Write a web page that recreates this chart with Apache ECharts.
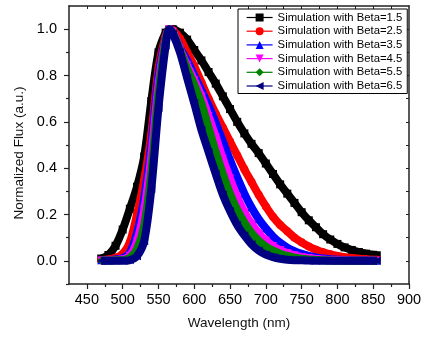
<!DOCTYPE html>
<html>
<head>
<meta charset="utf-8">
<script src="https://cdn.jsdelivr.net/npm/echarts@6/dist/echarts.min.js"></script>
<style>html,body{margin:0;padding:0;background:#fff}#c{width:425px;height:338px}</style>
</head>
<body>
<div id="c"></div>
<script>
// ---- data ----
const wavelength = [470,480,490,500,510,520,530,540,550,560,565,570,580,590,600,610,620,630,640,650,660,670,680,690,700,710,720,730,740,750,760,770,780,790,800,810,820,830,840,850,855];
const beta15 = [0.010,0.025,0.065,0.135,0.225,0.320,0.450,0.690,0.900,0.985,0.998,1.000,0.985,0.955,0.910,0.865,0.815,0.765,0.710,0.655,0.600,0.550,0.505,0.465,0.420,0.375,0.330,0.290,0.250,0.210,0.175,0.145,0.115,0.092,0.073,0.058,0.047,0.038,0.031,0.026,0.024];
const beta25 = [0.003,0.006,0.013,0.030,0.080,0.200,0.350,0.550,0.830,0.970,1.000,0.995,0.960,0.900,0.840,0.770,0.700,0.635,0.575,0.515,0.455,0.395,0.340,0.285,0.235,0.190,0.155,0.128,0.100,0.080,0.062,0.048,0.037,0.028,0.021,0.016,0.012,0.009,0.007,0.005,0.005];
const beta35 = [0.002,0.003,0.006,0.012,0.035,0.120,0.270,0.500,0.800,0.960,1.000,0.990,0.920,0.865,0.800,0.735,0.670,0.595,0.515,0.435,0.360,0.290,0.230,0.180,0.140,0.105,0.078,0.057,0.042,0.030,0.021,0.015,0.010,0.007,0.005,0.003,0.002,0.001,0.001,0.000,0.000];
const beta45 = [0.001,0.002,0.003,0.006,0.022,0.085,0.220,0.450,0.760,0.955,1.000,0.990,0.915,0.845,0.780,0.710,0.625,0.535,0.440,0.355,0.275,0.210,0.160,0.120,0.088,0.064,0.046,0.034,0.024,0.017,0.012,0.008,0.005,0.003,0.002,0.001,0.000,0.000,0.000,0.000,0.000];
const beta55 = [0.001,0.001,0.002,0.003,0.012,0.050,0.150,0.380,0.720,0.950,1.000,0.985,0.910,0.830,0.760,0.680,0.575,0.470,0.375,0.290,0.220,0.165,0.120,0.087,0.062,0.044,0.031,0.021,0.014,0.009,0.006,0.004,0.002,0.001,0.000,0.000,0.000,0.000,0.000,0.000,0.000];
const beta65 = [0.000,0.000,0.000,0.000,0.003,0.020,0.085,0.310,0.660,0.930,1.000,0.980,0.900,0.790,0.680,0.565,0.470,0.375,0.285,0.215,0.155,0.110,0.072,0.045,0.027,0.016,0.009,0.005,0.003,0.002,0.001,0.000,0.000,0.000,0.000,0.000,0.000,0.000,0.000,0.000,0.000];
const seriesNames = ['Simulation with Beta=1.5','Simulation with Beta=2.5','Simulation with Beta=3.5','Simulation with Beta=4.5','Simulation with Beta=5.5','Simulation with Beta=6.5'];
const xTickLabels = [450,500,550,600,650,700,750,800,850,900];
const xMinorTicks = [475,525,575,625,675,725,775,825,875];
const yTickLabels = [0.0,0.2,0.4,0.6,0.8,1.0];
const yMinorTicks = [-0.1,0.1,0.3,0.5,0.7,0.9];

const FONT = '"Liberation Sans", Arial, sans-serif';
const valuesList = [beta15,beta25,beta35,beta45,beta55,beta65];
const colors = ['#000000','#ff0000','#0000ff','#ff00ff','#008000','#000080'];
const symbols = ['rect','circle','triangle','triangle','diamond','triangle'];
const rotates = [0,0,0,180,0,90];

const chart = echarts.init(document.getElementById('c'), null, {renderer:'canvas'});
const axisLineStyle = {color:'#222', width:1.5};
const topTicks = xMinorTicks.concat(xTickLabels.slice(0,-1)).sort((a,b)=>a-b);
const rightTicks = yMinorTicks.concat(yTickLabels).filter(v=>v>-0.1).sort((a,b)=>a-b);

chart.setOption({
  animation:false,
  backgroundColor:'#fff',
  grid:{left:69, right:16, top:6, bottom:54, containLabel:false},
  legend:{
    orient:'vertical', left:238, top:9,
    padding:[3,5,2,8], itemWidth:26, itemHeight:10, itemGap:2.7,
    borderColor:'#000', borderWidth:1, backgroundColor:'#fff',
    textStyle:{fontSize:11.3, color:'#000', fontFamily:FONT},
    lineStyle:{width:1.2},
    data:seriesNames
  },
  xAxis:[
    {type:'value', position:'bottom', min:425, max:900,
     axisLine:{show:true, onZero:false, lineStyle:axisLineStyle},
     axisTick:{show:true, inside:false, length:5, customValues:xTickLabels, lineStyle:{color:'#222', width:1.2}},
     axisLabel:{show:true, customValues:xTickLabels, margin:8, fontSize:14.5, color:'#000', fontFamily:FONT},
     splitLine:{show:false},
     name:'Wavelength (nm)', nameLocation:'middle', nameGap:32,
     nameTextStyle:{fontSize:13.5, color:'#111', fontFamily:FONT}},
    {type:'value', position:'bottom', min:425, max:900,
     axisLine:{show:false, onZero:false},
     axisTick:{show:true, inside:false, length:3, customValues:xMinorTicks, lineStyle:{color:'#222', width:1.2}},
     axisLabel:{show:false}, splitLine:{show:false}},
    {type:'value', position:'top', min:425, max:900,
     axisLine:{show:true, onZero:false, lineStyle:axisLineStyle},
     axisTick:{show:true, inside:true, length:3, customValues:topTicks, lineStyle:{color:'#222', width:1}},
     axisLabel:{show:false}, splitLine:{show:false}}
  ],
  yAxis:[
    {type:'value', position:'left', min:-0.1, max:1.1,
     axisLine:{show:true, onZero:false, lineStyle:axisLineStyle},
     axisTick:{show:true, inside:false, length:5, customValues:yTickLabels, lineStyle:{color:'#222', width:1.2}},
     axisLabel:{show:true, customValues:yTickLabels, margin:12, fontSize:14.5, color:'#000', fontFamily:FONT,
       formatter:v=>Number(v).toFixed(1)},
     splitLine:{show:false},
     name:'Normalized Flux (a.u.)', nameLocation:'middle', nameGap:39, nameRotate:90,
     nameTextStyle:{fontSize:13.5, color:'#111', fontFamily:FONT, padding:[0,16,0,0]}},
    {type:'value', position:'left', min:-0.1, max:1.1,
     axisLine:{show:false, onZero:false},
     axisTick:{show:true, inside:false, length:3, customValues:yMinorTicks, lineStyle:{color:'#222', width:1.2}},
     axisLabel:{show:false}, splitLine:{show:false}},
    {type:'value', position:'right', min:-0.1, max:1.1,
     axisLine:{show:true, onZero:false, lineStyle:axisLineStyle},
     axisTick:{show:true, inside:true, length:3, customValues:rightTicks, lineStyle:{color:'#222', width:1}},
     axisLabel:{show:false}, splitLine:{show:false}}
  ],
  series: valuesList.map((vals,k)=>({
    name:seriesNames[k], type:'line', xAxisIndex:0, yAxisIndex:0,
    data: wavelength.map((w,i)=>[w, vals[i]]),
    smooth:0.3, showSymbol:true, symbol:symbols[k], symbolRotate:rotates[k], symbolSize:8,
    color:colors[k],
    lineStyle:{color:colors[k], width:8},
    itemStyle:{color:colors[k]},
    z:2+k
  }))
});
</script>
</body>
</html>
